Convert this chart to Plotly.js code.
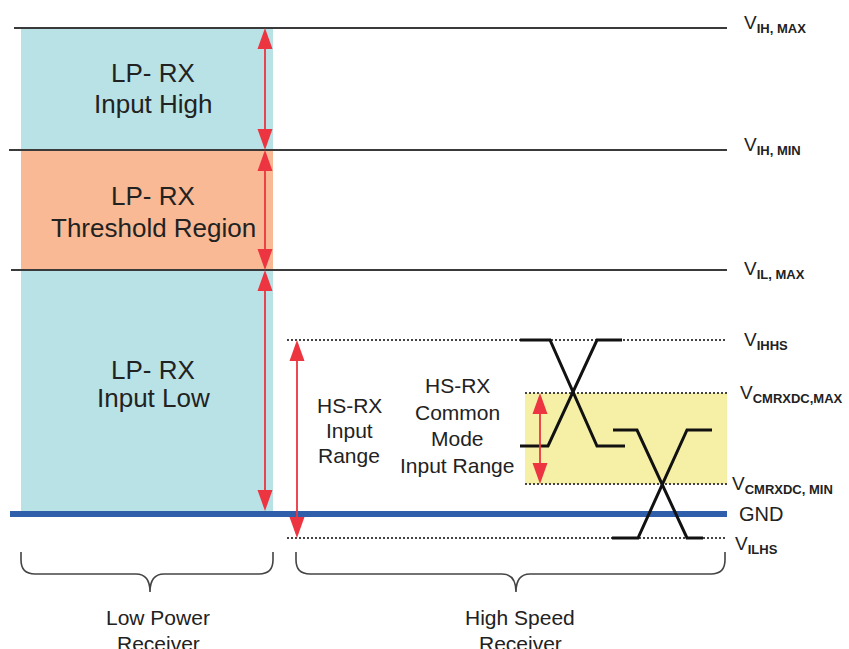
<!DOCTYPE html>
<html>
<head>
<meta charset="utf-8">
<script src="https://cdn.plot.ly/plotly-3.0.1.min.js"></script>
<style>html,body{margin:0;padding:0;background:#fff;}#chart{width:849px;height:649px;}</style>
</head>
<body>
<div id="chart"></div>
<script>
// ---- Diagram data (vertical values are in diagram units, top = 0) ----
// Low-power receiver levels (solid lines)
const lpLevelNames = ['IH, MAX', 'IH, MIN', 'IL, MAX'];
const lpLevelValues = [28, 150, 270];
const lpLevelStart = [14, 9, 11];
// High-speed receiver levels (dotted lines)
const hsLevelNames = ['IHHS', 'CMRXDC,MAX', 'CMRXDC, MIN', 'ILHS'];
const hsLevelValues = [340, 393, 484, 538];
const hsLevelStart = [287, 525, 525, 287];
const gndValue = 514;
const levelEnd = 727;

// LP regions
const lpRegionTop = [28, 150, 270];
const lpRegionBottom = [150, 270, 511];
const lpRegionColor = ['#b9e2e6', '#f8b994', '#b9e2e6'];
const lpRegionLines = [['LP- RX', 'Input High'], ['LP- RX', 'Threshold Region'], ['LP- RX', 'Input Low']];
const lpRegionLineY = [[73, 104], [196, 228], [370, 398]];
const lpRegionLeft = 21, lpRegionRight = 273;

// Common-mode region
const cmTop = 393, cmBottom = 484, cmLeft = 525;

// Arrows: [x, yFrom, yTo]
const arrowX = [265, 265, 265, 297, 540];
const arrowFrom = [28, 150, 270, 340, 393];
const arrowTo = [150, 270, 511, 538, 484];

// Differential waveforms (two crossing pairs)
const wave1aX = [520, 550, 597, 625], wave1aY = [340, 340, 446, 446];
const wave1bX = [520, 548, 597, 622], wave1bY = [446, 446, 340, 340];
const wave2aX = [613, 637, 687, 703], wave2aY = [430, 430, 538, 538];
const wave2bX = [612, 638, 687, 712], wave2bY = [538, 538, 430, 430];

// HS text blocks
const hsInputLines = ['HS-RX', 'Input', 'Range'];
const hsInputLineY = [405, 430, 455];
const hsCmLines = ['HS-RX', 'Common', 'Mode', 'Input Range'];
const hsCmLineY = [385, 412, 438, 465];

// Braces
const braceLeft = [21, 296];
const braceRight = [273, 725];
const braceTip = [150, 516];
const braceLines = [['Low Power', 'Receiver'], ['High Speed', 'Receiver']];
const braceLabelX = [158, 520];
const braceLineY = [617, 643];

// Right-hand labels
const labelSubs = ['IH, MAX', 'IH, MIN', 'IL, MAX', 'IHHS', 'CMRXDC,MAX', 'CMRXDC, MIN', 'ILHS'];
const labelX = [742, 742, 742, 742, 738, 730, 733];
const labelY = [20, 142, 266, 337, 390, 481, 541];

// ---- Build figure ----
const red = '#ec3540';
const font = (s) => ({family: 'Liberation Sans, Arial', size: s, color: '#222'});
const traces = [];
const shapes = [];
const annotations = [];
const addText = (x, y, t, s) => annotations.push({x: x, y: y, xref: 'x', yref: 'y', text: t, showarrow: false,
  font: font(s), xanchor: 'center', yanchor: 'middle'});

// regions
lpRegionTop.forEach((t, i) => {
  shapes.push({type: 'rect', xref: 'x', yref: 'y', x0: lpRegionLeft, x1: lpRegionRight, y0: t, y1: lpRegionBottom[i],
    fillcolor: lpRegionColor[i], line: {width: 0}, layer: 'below'});
  lpRegionLines[i].forEach((ln, j) => addText(153, lpRegionLineY[i][j], ln, 26));
});
shapes.push({type: 'rect', xref: 'x', yref: 'y', x0: cmLeft, x1: levelEnd, y0: cmTop, y1: cmBottom,
  fillcolor: '#f6f0a6', line: {width: 0}, layer: 'below'});

// LP solid levels
lpLevelValues.forEach((v, i) => {
  traces.push({type: 'scatter', mode: 'lines', x: [lpLevelStart[i], levelEnd], y: [v, v],
    line: {color: '#3a3a3a', width: 2}, hoverinfo: 'skip'});
});
// HS dotted levels
hsLevelValues.forEach((v, i) => {
  traces.push({type: 'scatter', mode: 'lines', x: [hsLevelStart[i], levelEnd], y: [v, v],
    line: {color: '#444', width: 2, dash: '2px,2px'}, hoverinfo: 'skip'});
});
// GND
traces.push({type: 'scatter', mode: 'lines', x: [10, levelEnd], y: [gndValue, gndValue],
  line: {color: '#2f5fab', width: 6}, hoverinfo: 'skip'});

// waveforms
[[wave1aX, wave1aY], [wave1bX, wave1bY], [wave2aX, wave2aY], [wave2bX, wave2bY]].forEach(w => {
  traces.push({type: 'scatter', mode: 'lines', x: w[0], y: w[1], line: {color: '#111', width: 3}, hoverinfo: 'skip'});
});

// arrows
const headL = 21, headW = 7.5;
arrowX.forEach((x, i) => {
  const a = arrowFrom[i], b = arrowTo[i];
  shapes.push({type: 'line', xref: 'x', yref: 'y', x0: x, x1: x, y0: a + headL - 2, y1: b - headL + 2, line: {color: red, width: 1.8}});
  shapes.push({type: 'path', xref: 'x', yref: 'y', fillcolor: red, line: {width: 0},
    path: `M${x},${a} L${x - headW},${a + headL} L${x + headW},${a + headL} Z`});
  shapes.push({type: 'path', xref: 'x', yref: 'y', fillcolor: red, line: {width: 0},
    path: `M${x},${b} L${x - headW},${b - headL} L${x + headW},${b - headL} Z`});
});

// braces
const bTop = 552, bMid = 574, bTipY = 592, r = 14;
braceLeft.forEach((x0, i) => {
  const x1 = braceRight[i], m = braceTip[i];
  shapes.push({type: 'path', xref: 'x', yref: 'y', line: {color: '#444', width: 1.6},
    path: `M${x0},${bTop} L${x0},${bMid - r} Q${x0},${bMid} ${x0 + r},${bMid} L${m - r},${bMid} Q${m},${bMid} ${m},${bTipY}` +
          ` Q${m},${bMid} ${m + r},${bMid} L${x1 - r},${bMid} Q${x1},${bMid} ${x1},${bMid - r} L${x1},${bTop}`});
  braceLines[i].forEach((ln, j) => addText(braceLabelX[i], braceLineY[j], ln, 21));
});

// HS texts
hsInputLines.forEach((ln, j) => addText(349, hsInputLineY[j], ln, 21));
hsCmLines.forEach((ln, j) => addText(457, hsCmLineY[j], ln, 21));

// right labels
labelSubs.forEach((s, i) => {
  annotations.push({x: labelX[i], y: labelY[i] + 4, xref: 'x', yref: 'y', xanchor: 'left', yanchor: 'middle', showarrow: false,
    text: `V<sub><span style="font-size:13px;font-weight:bold">${s}</span></sub>`,
    font: font(19)});
});
annotations.push({x: 737, y: gndValue, xref: 'x', yref: 'y', xanchor: 'left', yanchor: 'middle', showarrow: false,
  text: 'GND', font: font(20)});

const layout = {
  width: 849, height: 649,
  margin: {l: 0, r: 0, t: 0, b: 0},
  xaxis: {range: [0, 849], visible: false, fixedrange: true},
  yaxis: {range: [649, 0], visible: false, fixedrange: true},
  showlegend: false,
  paper_bgcolor: '#fff', plot_bgcolor: '#fff',
  shapes: shapes, annotations: annotations
};
Plotly.newPlot('chart', traces, layout, {displayModeBar: false, staticPlot: true});
</script>
</body>
</html>
